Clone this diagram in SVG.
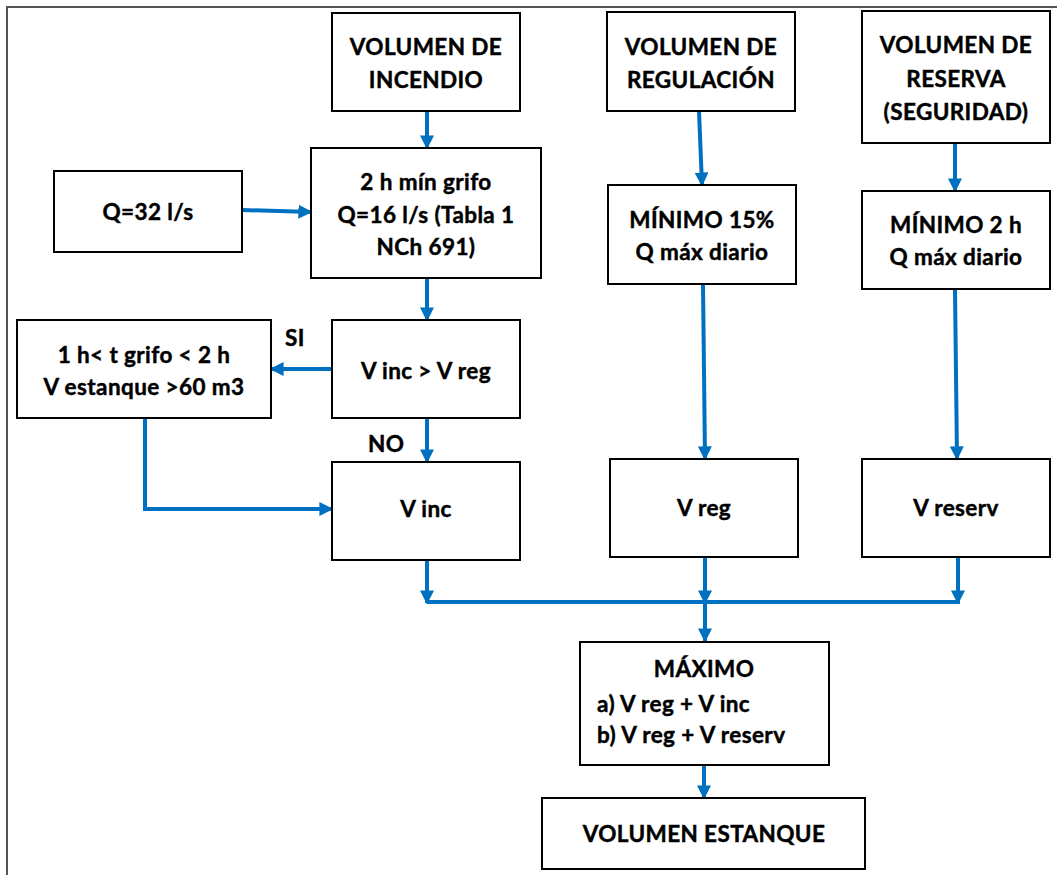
<svg xmlns="http://www.w3.org/2000/svg" width="1057" height="875" viewBox="0 0 1057 875">
  <style>
    .box { fill: #ffffff; stroke: #000000; stroke-width: 2; }
    .t { font-family: Lato, "Open Sans", "Liberation Sans", sans-serif; font-weight: bold; font-size: 22.5px; letter-spacing: 0.4px; fill: #000000; stroke: #000000; stroke-width: 0.45; text-anchor: middle; }
    .tl { text-anchor: start; }
    .wire { fill: none; stroke: #0070C0; stroke-width: 4; }
    .arr { fill: none; stroke: #0070C0; stroke-width: 4; marker-end: url(#head); }
  </style>
  <defs>
    <marker id="head" viewBox="0 0 10 10" refX="9" refY="5" markerUnits="userSpaceOnUse" markerWidth="14" markerHeight="14" orient="auto">
      <path d="M0,0 L10,5 L0,10 Z" fill="#0070C0"/>
    </marker>
  </defs>

  <!-- page frame -->
  <rect x="7" y="7" width="1070" height="890" fill="#ffffff" stroke="#555555" stroke-width="2"/>

  <g id="connectors">
    <line class="arr" x1="427" y1="111" x2="427" y2="148"/>
    <line class="arr" x1="242" y1="210" x2="311" y2="212"/>
    <line class="arr" x1="427" y1="278" x2="427" y2="320"/>
    <line class="arr" x1="332" y1="369" x2="271" y2="369"/>
    <line class="arr" x1="427" y1="418" x2="427" y2="462"/>
    <polyline class="arr" points="145,418 145,509 332,509"/>
    <line class="arr" x1="699" y1="111" x2="702" y2="185"/>
    <line class="arr" x1="703" y1="284" x2="705" y2="459"/>
    <line class="arr" x1="955" y1="143" x2="955" y2="191"/>
    <line class="arr" x1="955" y1="289" x2="957" y2="459"/>
    <line class="arr" x1="427" y1="560" x2="427" y2="603"/>
    <line class="arr" x1="705" y1="557" x2="705" y2="603"/>
    <line class="arr" x1="958" y1="557" x2="958" y2="603"/>
    <line class="wire" x1="427" y1="602" x2="960" y2="602"/>
    <line class="arr" x1="705" y1="602" x2="705" y2="641"/>
    <line class="arr" x1="704" y1="765" x2="704" y2="798"/>
    <text class="t tl" x="285" y="346">SI</text>
    <text class="t tl" x="368" y="452">NO</text>
  </g>

  <g id="vol-incendio">
    <rect class="box" x="332" y="13" width="188" height="98"/>
    <text class="t" x="426" y="55">VOLUMEN DE</text>
    <text class="t" x="426" y="88">INCENDIO</text>
  </g>

  <g id="vol-regulacion">
    <rect class="box" x="607" y="12" width="188" height="99"/>
    <text class="t" x="701" y="55">VOLUMEN DE</text>
    <text class="t" x="701" y="88">REGULACIÓN</text>
  </g>

  <g id="vol-reserva">
    <rect class="box" x="862" y="11" width="188" height="132"/>
    <text class="t" x="956" y="53">VOLUMEN DE</text>
    <text class="t" x="956" y="87">RESERVA</text>
    <text class="t" x="956" y="120">(SEGURIDAD)</text>
  </g>

  <g id="caudal-32">
    <rect class="box" x="54" y="171" width="188" height="81"/>
    <text class="t" x="148" y="220">Q=32 l/s</text>
  </g>

  <g id="grifo-2h">
    <rect class="box" x="311" y="148" width="230" height="130"/>
    <text class="t" x="426" y="190">2 h mín grifo</text>
    <text class="t" x="426" y="223">Q=16 l/s (Tabla 1</text>
    <text class="t" x="426" y="255">NCh 691)</text>
  </g>

  <g id="minimo-15">
    <rect class="box" x="608" y="185" width="188" height="99"/>
    <text class="t" x="702" y="228">MÍNIMO 15%</text>
    <text class="t" x="702" y="260">Q máx diario</text>
  </g>

  <g id="minimo-2h">
    <rect class="box" x="862" y="191" width="188" height="98"/>
    <text class="t" x="956" y="233">MÍNIMO 2 h</text>
    <text class="t" x="956" y="265">Q máx diario</text>
  </g>

  <g id="grifo-1h">
    <rect class="box" x="17" y="320" width="254" height="98"/>
    <text class="t" x="144" y="363">1 h&lt; t grifo &lt; 2 h</text>
    <text class="t" x="144" y="395">V estanque &gt;60 m3</text>
  </g>

  <g id="decision">
    <rect class="box" x="332" y="320" width="188" height="98"/>
    <text class="t" x="426" y="379">V inc &gt; V reg</text>
  </g>

  <g id="v-inc">
    <rect class="box" x="332" y="462" width="188" height="98"/>
    <text class="t" x="426" y="517">V inc</text>
  </g>

  <g id="v-reg">
    <rect class="box" x="610" y="459" width="188" height="98"/>
    <text class="t" x="704" y="516">V reg</text>
  </g>

  <g id="v-reserv">
    <rect class="box" x="862" y="459" width="188" height="98"/>
    <text class="t" x="956" y="516">V reserv</text>
  </g>

  <g id="maximo">
    <rect class="box" x="580" y="642" width="249" height="123"/>
    <text class="t" x="704" y="677">MÁXIMO</text>
    <text class="t tl" x="597" y="712">a) V reg + V inc</text>
    <text class="t tl" x="597" y="743">b) V reg + V reserv</text>
  </g>

  <g id="volumen-estanque">
    <rect class="box" x="542" y="798" width="323" height="71"/>
    <text class="t" x="704" y="842">VOLUMEN ESTANQUE</text>
  </g>
</svg>
